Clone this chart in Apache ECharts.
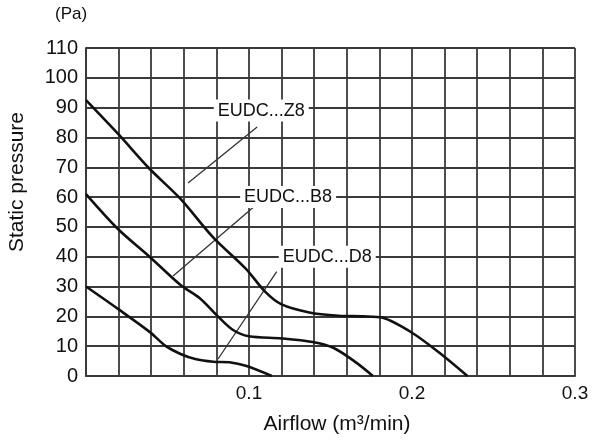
<!DOCTYPE html>
<html>
<head>
<meta charset="utf-8">
<script src="https://cdn.jsdelivr.net/npm/echarts@6/dist/echarts.min.js"></script>
<style>
  html, body { margin: 0; padding: 0; background: #fff; }
  #chart { width: 593px; height: 442px; }
</style>
</head>
<body>
<div id="chart"></div>
<script>
    'use strict'

    /*-----data-----*/
    // airflow (m3/min), static pressure (Pa)
    var z8 = [[0, 92.5], [0.02, 81], [0.039, 69.5], [0.058, 59.4], [0.078, 46.5], [0.098, 36], [0.11, 28.2],
        [0.12, 24], [0.137, 21.3], [0.155, 20.2], [0.17, 20], [0.182, 19.5], [0.2, 14.5], [0.217, 7.7], [0.234, 0]];
    var b8 = [[0, 61], [0.0196, 49.3], [0.039, 40], [0.058, 30.5], [0.07, 26], [0.08, 20.5], [0.09, 15.5],
        [0.1, 13.3], [0.12, 12.6], [0.139, 11.4], [0.152, 9.4], [0.166, 4.4], [0.176, 0]];
    var d8 = [[0, 30], [0.0196, 22.5], [0.039, 14.8], [0.049, 10], [0.058, 7.4], [0.067, 5.7], [0.078, 4.8],
        [0.088, 4.6], [0.098, 3.4], [0.114, 0]];

    var curveNames = ['EUDC...Z8', 'EUDC...B8', 'EUDC...D8'];
    // label anchor and arrow (from -> to) in data units
    var labelPos = [[0.1075, 89], [0.124, 60], [0.148, 40]];
    var arrowFrom = [[0.105, 83.5], [0.1025, 56.5], [0.117, 35]];
    var arrowTo = [[0.0626, 64.7], [0.0534, 33.5], [0.081, 5.7]];

    var xTicks = [0.1, 0.2, 0.3];

    var gridColor = '#3a3a3a';
    var textColor = '#111';
    var font = 'Liberation Sans';

    var curves = [z8, b8, d8].map(function (d, i) {
        return {
            name: curveNames[i],
            type: 'line',
            data: d,
            smooth: 0.3,
            showSymbol: false,
            lineStyle: { color: '#111', width: 2.6 },
            z: 5
        };
    });

    var arrows = {
        type: 'line',
        data: [],
        markLine: {
            silent: true,
            symbol: ['none', 'arrow'],
            symbolSize: [0, 8],
            lineStyle: { color: '#333', width: 1.3, type: 'solid' },
            label: { show: false },
            data: arrowFrom.map(function (f, i) {
                return [{ coord: f }, { coord: arrowTo[i] }];
            })
        },
        z: 6
    };

    var labels = {
        type: 'scatter',
        symbolSize: 1,
        itemStyle: { color: 'rgba(0,0,0,0)', opacity: 1 },
        data: labelPos.map(function (p, i) {
            return { value: p, name: curveNames[i] };
        }),
        label: {
            show: true,
            position: 'inside',
            formatter: '{b}',
            fontFamily: font,
            fontSize: 18,
            color: textColor,
            backgroundColor: '#fff',
            padding: [2, 4, 2, 4]
        },
        z: 7
    };

    var chart = document.getElementById('chart');
    var fanChart = echarts.init(chart);
    var option = {
        animation: false,
        backgroundColor: '#fff',
        grid: {
            top: 48,
            right: 18,
            bottom: 66,
            left: 86
        },
        xAxis: {
            type: 'value',
            min: 0,
            max: 0.3,
            interval: 0.02,
            axisLine: { lineStyle: { color: gridColor, width: 2 } },
            axisTick: { show: false },
            splitLine: { lineStyle: { color: gridColor, width: 1.8 } },
            axisLabel: {
                fontFamily: font,
                fontSize: 19,
                color: textColor,
                margin: 8,
                formatter: function (v) {
                    for (var i = 0; i < xTicks.length; i++) {
                        if (Math.abs(v - xTicks[i]) < 1e-6) return String(xTicks[i]);
                    }
                    return '';
                }
            }
        },
        yAxis: {
            type: 'value',
            min: 0,
            max: 110,
            interval: 10,
            axisLine: { show: true, lineStyle: { color: gridColor, width: 2 } },
            axisTick: { show: false },
            splitLine: { lineStyle: { color: gridColor, width: 1.8 } },
            axisLabel: {
                fontFamily: font,
                fontSize: 20,
                color: textColor,
                margin: 8
            }
        },
        graphic: [{
            type: 'text',
            left: 55,
            top: 6,
            style: { text: '(Pa)', fontFamily: font, fontSize: 17, fill: textColor }
        }, {
            type: 'text',
            x: 17,
            y: 182,
            rotation: Math.PI / 2,
            style: {
                text: 'Static pressure', fontFamily: font, fontSize: 21, fill: textColor,
                align: 'center', verticalAlign: 'middle'
            }
        }, {
            type: 'text',
            x: 337,
            y: 424,
            style: {
                text: 'Airflow (m³/min)', fontFamily: font, fontSize: 21, fill: textColor,
                align: 'center', verticalAlign: 'middle'
            }
        }],
        series: curves.concat([arrows, labels])
    };
    fanChart.setOption(option);
    window.addEventListener('resize', function () {
        fanChart.resize();
    })
</script>
</body>
</html>
